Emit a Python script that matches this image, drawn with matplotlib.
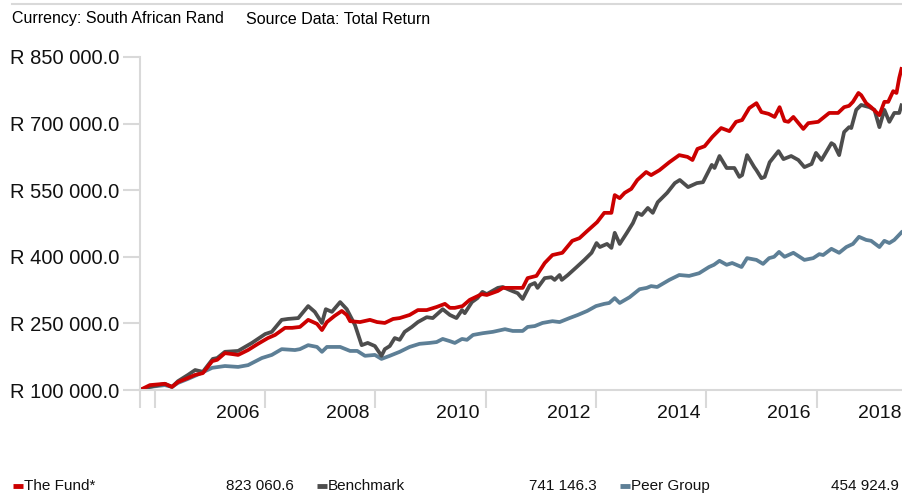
import matplotlib
matplotlib.use("Agg")
import matplotlib.pyplot as plt
from matplotlib.lines import Line2D
from matplotlib.ticker import FuncFormatter

plt.rcParams['font.family'] = ['Liberation Sans', 'DejaVu Sans']

# dados (datas em anos decimais, valores em milhares de rand)
fund_dates = [2004.73, 2004.91, 2005.18, 2005.31, 2005.42, 2005.60, 2005.73, 2005.87, 2006.04, 2006.13,
              2006.27, 2006.40, 2006.51, 2006.69, 2006.87, 2007.05, 2007.18, 2007.36, 2007.49, 2007.63,
              2007.78, 2007.94, 2008.03, 2008.12, 2008.26, 2008.39, 2008.48, 2008.54, 2008.72, 2008.90,
              2009.03, 2009.17, 2009.32, 2009.44, 2009.62, 2009.77, 2009.93, 2010.11, 2010.26, 2010.35,
              2010.44, 2010.58, 2010.71, 2010.93, 2011.02, 2011.22, 2011.31, 2011.49, 2011.67, 2011.76,
              2011.92, 2012.07, 2012.21, 2012.39, 2012.57, 2012.70, 2012.84, 2013.02, 2013.15, 2013.28,
              2013.34, 2013.43, 2013.52, 2013.64, 2013.75, 2013.91, 2014.00, 2014.15, 2014.33, 2014.51,
              2014.66, 2014.75, 2014.84, 2014.97, 2015.11, 2015.27, 2015.42, 2015.54, 2015.65, 2015.78,
              2015.91, 2016.00, 2016.13, 2016.24, 2016.33, 2016.42, 2016.49, 2016.58, 2016.76, 2016.85,
              2017.03, 2017.12, 2017.23, 2017.39, 2017.50, 2017.59, 2017.66, 2017.76, 2017.81, 2017.90,
              2017.99, 2018.14, 2018.23, 2018.30, 2018.39, 2018.45, 2018.50, 2018.54]
fund_values = [100, 111, 114, 107, 118, 127, 134, 138, 165, 168,
               183, 181, 179, 190, 204, 217, 224, 240, 240, 242,
               258, 249, 235, 253, 267, 278, 269, 255, 253, 258,
               253, 251, 260, 262, 269, 280, 280, 287, 294, 285,
               285, 289, 303, 316, 314, 323, 330, 330, 330, 352,
               357, 386, 404, 409, 436, 442, 458, 478, 499, 499,
               539, 532, 544, 553, 573, 591, 584, 595, 613, 629,
               625, 618, 643, 649, 670, 690, 683, 704, 708, 735,
               746, 726, 722, 715, 737, 706, 704, 715, 688, 701,
               704, 713, 724, 724, 737, 740, 749, 769, 764, 746,
               737, 719, 749, 749, 773, 769, 803, 823.06]

bench_dates = [2004.73, 2004.91, 2005.18, 2005.31, 2005.42, 2005.60, 2005.73, 2005.87, 2006.05, 2006.13,
               2006.27, 2006.51, 2006.76, 2007.00, 2007.12, 2007.30, 2007.41, 2007.60, 2007.78, 2007.90,
               2008.03, 2008.10, 2008.21, 2008.36, 2008.48, 2008.63, 2008.75, 2008.86, 2008.99, 2009.11,
               2009.17, 2009.26, 2009.35, 2009.44, 2009.53, 2009.66, 2009.77, 2009.93, 2010.04, 2010.22,
               2010.35, 2010.47, 2010.57, 2010.62, 2010.75, 2010.85, 2010.94, 2011.02, 2011.22, 2011.31,
               2011.44, 2011.58, 2011.67, 2011.80, 2011.89, 2011.94, 2012.07, 2012.19, 2012.25, 2012.34,
               2012.38, 2012.49, 2012.65, 2012.79, 2012.92, 2013.01, 2013.07, 2013.20, 2013.28, 2013.34,
               2013.43, 2013.56, 2013.67, 2013.75, 2013.83, 2013.94, 2014.03, 2014.12, 2014.29, 2014.43,
               2014.52, 2014.67, 2014.83, 2014.94, 2015.10, 2015.15, 2015.24, 2015.37, 2015.51, 2015.60,
               2015.65, 2015.74, 2015.87, 2015.91, 2016.00, 2016.06, 2016.15, 2016.31, 2016.40, 2016.54,
               2016.67, 2016.78, 2016.91, 2016.99, 2017.09, 2017.27, 2017.32, 2017.41, 2017.50, 2017.59,
               2017.63, 2017.72, 2017.81, 2017.96, 2018.05, 2018.14, 2018.23, 2018.32, 2018.41, 2018.50,
               2018.54]
bench_values = [100, 107, 114, 107, 120, 134, 145, 141, 170, 172,
                186, 188, 206, 226, 231, 258, 260, 262, 289, 276,
                251, 282, 276, 298, 282, 246, 201, 206, 199, 177,
                192, 199, 217, 213, 231, 242, 253, 264, 262, 282,
                269, 262, 280, 273, 298, 307, 321, 316, 330, 332,
                325, 318, 305, 336, 341, 330, 352, 354, 348, 359,
                348, 359, 377, 393, 409, 431, 422, 429, 420, 454,
                429, 454, 476, 499, 494, 510, 499, 523, 544, 566,
                573, 557, 566, 568, 607, 600, 627, 600, 600, 580,
                584, 629, 602, 595, 577, 580, 613, 638, 620, 627,
                618, 602, 609, 634, 618, 656, 652, 629, 681, 692,
                690, 731, 742, 737, 731, 692, 731, 704, 724, 724,
                741.15]

peer_dates = [2004.73, 2004.91, 2005.18, 2005.31, 2005.42, 2005.60, 2005.73, 2006.04, 2006.27, 2006.51,
              2006.69, 2006.94, 2007.12, 2007.30, 2007.54, 2007.63, 2007.78, 2007.94, 2008.03, 2008.12,
              2008.36, 2008.54, 2008.67, 2008.81, 2008.99, 2009.11, 2009.26, 2009.44, 2009.62, 2009.80,
              2009.98, 2010.11, 2010.22, 2010.35, 2010.44, 2010.57, 2010.66, 2010.77, 2010.95, 2011.13,
              2011.35, 2011.49, 2011.67, 2011.76, 2011.89, 2012.03, 2012.21, 2012.34, 2012.52, 2012.67,
              2012.84, 2013.00, 2013.15, 2013.24, 2013.34, 2013.43, 2013.61, 2013.79, 2013.92, 2014.00,
              2014.11, 2014.33, 2014.51, 2014.69, 2014.87, 2015.05, 2015.14, 2015.24, 2015.37, 2015.47,
              2015.64, 2015.74, 2015.91, 2016.03, 2016.14, 2016.23, 2016.32, 2016.42, 2016.58, 2016.78,
              2016.94, 2017.05, 2017.12, 2017.27, 2017.41, 2017.54, 2017.66, 2017.77, 2017.90, 2017.99,
              2018.14, 2018.23, 2018.32, 2018.41, 2018.54]
peer_values = [100, 107, 111, 107, 116, 125, 132, 150, 154, 152,
               156, 172, 179, 192, 190, 192, 201, 197, 186, 197,
               197, 188, 188, 177, 179, 170, 177, 186, 197, 204,
               206, 208, 215, 210, 206, 215, 213, 224, 228, 231,
               237, 233, 233, 242, 244, 251, 255, 253, 262, 269,
               278, 289, 294, 296, 307, 296, 309, 327, 330, 334,
               332, 348, 359, 357, 363, 377, 382, 391, 382, 386,
               377, 397, 393, 384, 397, 400, 411, 400, 409, 393,
               397, 406, 404, 418, 409, 422, 429, 445, 438, 436,
               422, 436, 431, 438, 454.92]

series_names = ['The Fund*', 'Benchmark', 'Peer Group']
final_values = [823060.6, 741146.3, 454924.9]
year_labels = ['2006', '2008', '2010', '2012', '2014', '2016', '2018']
y_ticks = [100000, 250000, 400000, 550000, 700000, 850000]

RED = '#cc0000'
GREY = '#4d4d4d'
BLUE = '#5d7f96'
AXIS = '#d9d9d9'

W, H = 902, 493
fig = plt.figure(figsize=(W / 100, H / 100), dpi=100)
ax = fig.add_axes([140 / W, 103 / H, 762 / W, 333 / H])

lw = 2.7
ax.plot(peer_dates, [v * 1000 for v in peer_values], color=BLUE, lw=lw, solid_joinstyle='round')
ax.plot(bench_dates, [v * 1000 for v in bench_values], color=GREY, lw=lw, solid_joinstyle='round')
ax.plot(fund_dates, [v * 1000 for v in fund_values], color=RED, lw=lw, solid_joinstyle='round')

x0, x1 = 2004.73, 2018.55
ax.set_xlim(x0, x1)
ax.set_ylim(100000, 850000)

for s in ['top', 'right']:
    ax.spines[s].set_visible(False)
for s in ['left', 'bottom']:
    ax.spines[s].set_color(AXIS)
    ax.spines[s].set_linewidth(1.5)

# ticks nas fronteiras dos anos, rotulos no meio do ano
ax.set_xticks([x0] + list(range(2005, 2018, 2)))
ax.set_xticklabels([])
label_pos = [int(y) + 0.5 for y in year_labels[:-1]] + [2018.15]
ax.set_xticks(label_pos, minor=True)
ax.set_xticklabels(year_labels, minor=True)
ax.tick_params(axis='x', which='major', length=13, width=1.5, color=AXIS)
ax.tick_params(axis='x', which='minor', length=0, pad=11, labelsize=14, labelcolor='#111111')

ax.set_yticks(y_ticks)
ax.yaxis.set_major_formatter(FuncFormatter(lambda v, p: 'R ' + f'{v:,.1f}'.replace(',', ' ')))
ax.tick_params(axis='y', length=12, width=1.5, color=AXIS, pad=3, labelsize=14.5, labelcolor='#111111')

# cabecalho
fig.add_artist(Line2D([12 / W, 1], [1 - 4 / H] * 2, color=AXIS, lw=1.5))
fig.text(12 / W, 1 - 19 / H, 'Currency: South African Rand', fontsize=11.5, va='center')
fig.text(246 / W, 1 - 19 / H, 'Source Data: Total Return', fontsize=11.5, va='center')

# legenda em linha no rodape
ly = 1 - 486 / H
marker_x = [13, 317, 620]
value_x = [294, 597, 899]
for name, val, col, mx, vx in zip(series_names, final_values, [RED, GREY, BLUE], marker_x, value_x):
    fig.add_artist(Line2D([mx / W, (mx + 10) / W], [ly, ly], color=col, lw=3.5, solid_capstyle='butt'))
    fig.text((mx + 11) / W, ly, name, fontsize=11, va='center', color='#111111')
    fig.text(vx / W, ly, f'{val:,.1f}'.replace(',', ' '), fontsize=11, va='center', ha='right',
             color='#111111')

fig.savefig('out.png', dpi=100)
